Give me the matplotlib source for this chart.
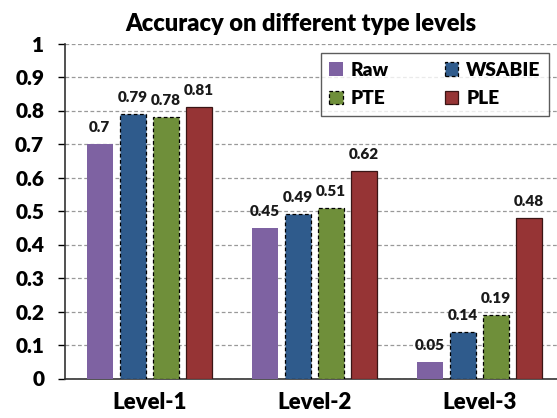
import matplotlib
matplotlib.use("Agg")
import matplotlib.pyplot as plt
import numpy as np

categories = ["Level-1", "Level-2", "Level-3"]
series = ["Raw", "WSABIE", "PTE", "PLE"]
raw = [0.70, 0.45, 0.05]
wsabie = [0.79, 0.49, 0.14]
pte = [0.78, 0.51, 0.19]
ple = [0.81, 0.62, 0.48]
yticks = [0, 0.1, 0.2, 0.3, 0.4, 0.5, 0.6, 0.7, 0.8, 0.9, 1]
ytick_labels = ["0", "0.1", "0.2", "0.3", "0.4", "0.5", "0.6", "0.7", "0.8", "0.9", "1"]

plt.rcParams['font.family'] = ['Lato', 'DejaVu Sans']
plt.rcParams['font.weight'] = 'heavy'

fig = plt.figure(figsize=(5.57, 4.18), dpi=100)
ax = fig.add_axes([65 / 557, 1 - 378.5 / 418, 492 / 557, 335 / 418])

colors = ["#7E62A2", "#2F5B8C", "#6F8F3A", "#963435"]
edges = ["none", "black", "black", "#3a1515"]
styles = ["solid", (0, (3, 2)), (0, (3, 2)), "solid"]
data = [raw, wsabie, pte, ple]
x = np.arange(len(categories))
w = 0.158
step = 0.2
handles = []
for i, (name, vals) in enumerate(zip(series, data)):
    pos = x + (i - 1.5) * step
    bars = ax.bar(pos, vals, w, color=colors[i], edgecolor=edges[i],
                  linewidth=0.9 if edges[i] != "none" else 0, linestyle=styles[i],
                  label=name, zorder=3)
    handles.append(bars)
    for b, v in zip(bars, vals):
        lab = f"{v:g}"
        ax.text(b.get_x() + b.get_width() / 2, v + 0.03, lab, ha="center", va="bottom",
                fontsize=11, fontweight="heavy", color="#1a1a1a")

ax.set_ylim(0, 1)
ax.set_xlim(-0.51, 2.47)
ax.set_yticks(yticks)
ax.set_yticklabels(ytick_labels, fontsize=15, fontweight="heavy")
ax.set_xticks(x)
ax.set_xticklabels(categories, fontsize=16, fontweight="heavy")
ax.tick_params(axis="x", length=0, pad=10)
ax.tick_params(axis="y", length=5, width=1, direction="out", pad=10)
ax.yaxis.grid(True, linestyle=(0, (3, 2)), color="#999999", linewidth=0.9, zorder=0)
for s in ["top", "right"]:
    ax.spines[s].set_visible(False)
ax.spines["left"].set_color("#333333")
ax.spines["bottom"].set_color("#333333")
ax.spines["left"].set_linewidth(1.2)
ax.spines["bottom"].set_linewidth(1.2)

ax.set_title("Accuracy on different type levels", fontsize=17, fontweight="heavy",
             pad=9, x=0.48)

order = [0, 2, 1, 3]
leg = ax.legend([handles[k] for k in order], [series[k] for k in order],
                ncol=2, loc="upper right", bbox_to_anchor=(0.984, 0.972), fontsize=13.8,
                frameon=True, fancybox=False, edgecolor="#333333", handlelength=0.7,
                handleheight=0.7, columnspacing=2.9, handletextpad=0.42, borderpad=0.45,
                labelspacing=0.6, borderaxespad=0)
leg.get_frame().set_linewidth(1.0)
for t in leg.get_texts():
    t.set_fontweight("heavy")

fig.savefig("out.png", dpi=100)
